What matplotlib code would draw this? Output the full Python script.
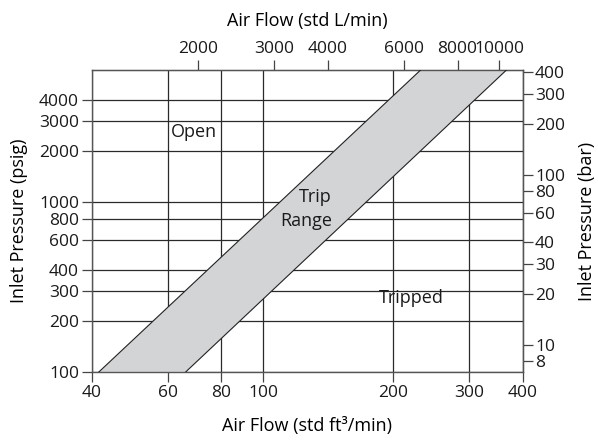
import matplotlib
matplotlib.use('Agg')
import matplotlib.pyplot as plt
from matplotlib.ticker import NullLocator

# tick values
flow_ticks = [40, 60, 80, 100, 200, 300, 400]          # std ft3/min (bottom)
lpm_ticks = [2000, 3000, 4000, 6000, 8000, 10000]       # std L/min (top)
psig_ticks = [100, 200, 300, 400, 600, 800, 1000, 2000, 3000, 4000]
bar_ticks = [8, 10, 20, 30, 40, 60, 80, 100, 200, 300, 400]

# trip band: flow at the low / high edge for the bottom and top pressure
band_pressure = [100, 6000]
band_low_flow = [41.5, 232]
band_high_flow = [66, 367]

L_PER_FT3 = 28.3168
PSI_PER_BAR = 14.5038

plt.rcParams['font.family'] = 'Open Sans'
plt.rcParams['font.size'] = 13

fig = plt.figure(figsize=(5.98, 4.43), dpi=100)
ax = fig.add_axes([0.1532, 0.1596, 0.7207, 0.6824])

ax.set_xscale('log')
ax.set_yscale('log')
ax.set_xlim(40, 400)
ax.set_ylim(100, 6000)

# shaded trip range
xs = band_low_flow + band_high_flow[::-1]
ys = band_pressure + band_pressure[::-1]
ax.fill(xs, ys, color='#d3d4d6', zorder=2, lw=0)
ax.plot(band_low_flow, band_pressure, color='#222222', lw=0.8, zorder=3)
ax.plot(band_high_flow, band_pressure, color='#222222', lw=0.8, zorder=3)

# ticks and grid
ax.set_xticks(flow_ticks, labels=[str(t) for t in flow_ticks])
ax.set_yticks(psig_ticks, labels=[str(t) for t in psig_ticks])
ax.xaxis.set_minor_locator(NullLocator())
ax.yaxis.set_minor_locator(NullLocator())
ax.grid(True, which='major', color='#2a2a2a', lw=0.9, zorder=1)
ax.set_axisbelow(True)
tick_style = dict(length=7, width=0.9, color='#444444', labelcolor='#1a1a1a', pad=2, labelsize=12.5)
ax.tick_params(**tick_style)
for s in ax.spines.values():
    s.set_color('#555555')
    s.set_linewidth(1.0)

# top axis in L/min
secx = ax.secondary_xaxis('top', functions=(lambda x: x * L_PER_FT3, lambda x: x / L_PER_FT3))
secx.set_xticks(lpm_ticks, labels=[str(t) for t in lpm_ticks])
secx.xaxis.set_minor_locator(NullLocator())
secx.tick_params(**tick_style)
secx.set_xlabel('Air Flow (std L/min)', labelpad=11)

# right axis in bar
secy = ax.secondary_yaxis('right', functions=(lambda p: p / PSI_PER_BAR, lambda b: b * PSI_PER_BAR))
secy.set_yticks(bar_ticks, labels=[str(t) for t in bar_ticks])
secy.yaxis.set_minor_locator(NullLocator())
secy.tick_params(**tick_style)
secy.set_ylabel('Inlet Pressure (bar)', labelpad=9)

ax.set_xlabel('Air Flow (std ft³/min)', labelpad=12)
ax.set_ylabel('Inlet Pressure (psig)', labelpad=8)

# region labels
ax.text(61, 2580, 'Open', ha='left', va='center', color='#1a1a1a', zorder=4)
ax.text(144.5, 1073, 'Trip', ha='right', va='center', color='#1a1a1a', zorder=4)
ax.text(144.5, 772, 'Range', ha='right', va='center', color='#1a1a1a', zorder=4)
ax.text(221, 273, 'Tripped', ha='center', va='center', color='#1a1a1a', zorder=4)

fig.savefig('out.png', dpi=100)
